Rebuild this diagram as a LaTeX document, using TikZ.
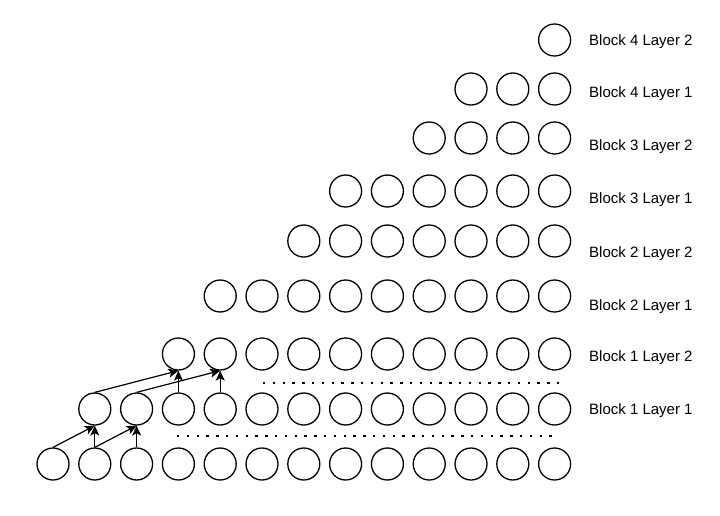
\documentclass[tikz,border=0pt]{standalone}
\usepackage{fontspec}
\setmainfont{Liberation Sans}
\usetikzlibrary{arrows.meta}
\begin{document}
\begin{tikzpicture}[x=1pt,y=-1pt,
  unit/.style={circle,draw=black,line width=1.3pt,minimum size=32pt,inner sep=0pt,fill=white},
  conn/.style={line width=1.2pt,-{Stealth[length=10pt,width=9pt,inset=2.5pt]}},
  dots/.style={line width=2.3pt,dash pattern=on 2.3pt off 7.5pt},
  lbl/.style={anchor=base west,inner sep=0pt,font=\fontsize{15}{18}\selectfont}]
\useasboundingbox (0,0) rectangle (720,515);
% rows: index/y/first column
\foreach \r/\y/\s in {0/464/0,1/409/1,2/354/3,3/296/4,4/241/6,5/191/7,6/138/9,7/89/10,8/40/12}{
  \foreach \k in {\s,...,12}{
    \node[unit] (c-\r-\k) at ({53+41.8*\k},\y) {};
  }
}
% labels
\foreach \r/\ly/\t in {1/409/Block 1 Layer 1,2/356/Block 1 Layer 2,3/305/Block 2 Layer 1,4/252/Block 2 Layer 2,5/198/Block 3 Layer 1,6/145/Block 3 Layer 2,7/92/Block 4 Layer 1,8/40/Block 4 Layer 2}{
  \node[lbl] (l-\r) at (589,\ly+5.5) {\t};
}
% dotted separators
\coordinate (d1a) at (177,436);
\coordinate (d1b) at (557,436);
\coordinate (d2a) at (263,383);
\coordinate (d2b) at (559,383);
\draw[dots] (d1a) -- (d1b);
\draw[dots] (d2a) -- (d2b);
% connections
\draw[conn] (c-0-0.north) -- (c-1-1.south);
\draw[conn] (c-0-1.north) -- (c-1-1.south);
\draw[conn] (c-0-1.north) -- (c-1-2.south);
\draw[conn] (c-0-2.north) -- (c-1-2.south);
\draw[conn] (c-1-1.north) -- (c-2-3.south);
\draw[conn] (c-1-3.north) -- (c-2-3.south);
\draw[conn] (c-1-2.north) -- (c-2-4.south);
\draw[conn] (c-1-4.north) -- (c-2-4.south);
\end{tikzpicture}
\end{document}
